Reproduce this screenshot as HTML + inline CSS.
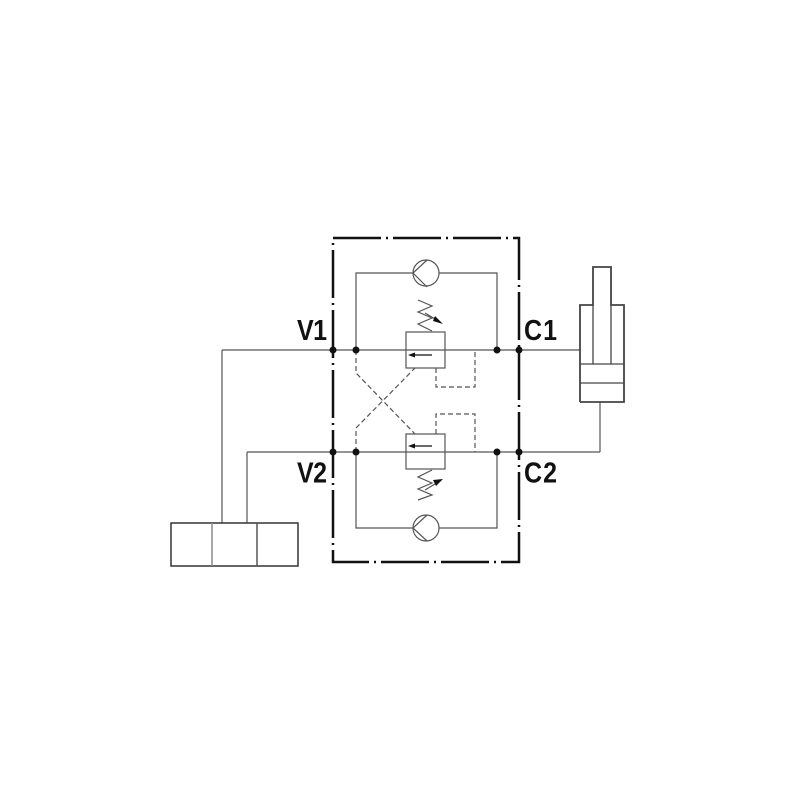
<!DOCTYPE html>
<html><head><style>
body{margin:0;background:#fff}
svg{display:block}
text{font-family:"Liberation Sans",Arial,sans-serif;font-weight:bold;fill:#111}
</style></head><body>
<svg width="800" height="800" viewBox="0 0 800 800" xmlns="http://www.w3.org/2000/svg">
<rect width="800" height="800" fill="#fff"/>
<!-- block boundary dash-dot -->
<rect x="333" y="238" width="186" height="324" fill="none" stroke="#111" stroke-width="2.5" stroke-dasharray="48,5,2,5"/>
<g stroke="#555" stroke-width="1.2" fill="none">
<!-- main lines -->
<line x1="222" y1="350" x2="580" y2="350"/>
<line x1="247" y1="452" x2="600" y2="452"/>
<polyline points="222,350 222,523"/>
<polyline points="247,452 247,523"/>
<polyline points="600,452 600,402"/>
<!-- top loop -->
<polyline points="356,350 356,273 413,273"/>
<polyline points="439,273 497,273 497,350"/>
<circle cx="426" cy="273" r="13"/>
<polyline points="427,260 413,273 427,287"/>
<!-- bottom loop -->
<polyline points="356,452 356,528 413,528"/>
<polyline points="439,528 497,528 497,452"/>
<circle cx="426" cy="528" r="13"/>
<polyline points="427,515 413,528 427,541"/>
<!-- valve boxes -->
<rect x="406" y="332" width="39" height="36" fill="#fff"/>
<line x1="406" y1="350" x2="445" y2="350"/>
<rect x="406" y="434" width="39" height="35" fill="#fff"/>
<line x1="406" y1="452" x2="445" y2="452"/>
<!-- springs -->
<polyline points="432,331 418,324 432,318 418,312 432,306 418,300"/>
<polyline points="432,470 418,477 432,483 418,489 432,495 418,500"/>
<line x1="425" y1="313" x2="440" y2="322"/>
<line x1="425" y1="490" x2="440" y2="481"/>
<!-- dashed pilots -->
<g stroke-dasharray="5,3">
<polyline points="436,368 436,387 475,387 475,350"/>
<polyline points="436,434 436,414 475,414 475,452"/>
<polyline points="356,350 356,373 415,434"/>
<polyline points="356,452 356,428 415,368"/>
</g>
</g>
<!-- arrows in valve -->
<g stroke="#111" stroke-width="1.2">
<line x1="412" y1="355" x2="432" y2="355"/>
<line x1="412" y1="446" x2="432" y2="446"/>
<line x1="434" y1="318" x2="440" y2="322"/>
</g>
<polygon points="408,355 415,352.5 415,357.5" fill="#111"/>
<polygon points="408,446 415,443.5 415,448.5" fill="#111"/>
<polygon points="443,324 435,316 433,321" fill="#111"/>
<polygon points="443,479 433,480 436,486" fill="#111"/>
<!-- dots -->
<g fill="#111">
<circle cx="333" cy="350" r="3.5"/><circle cx="356" cy="350" r="3.5"/>
<circle cx="497" cy="350" r="3.5"/><circle cx="519" cy="350" r="3.5"/>
<circle cx="333" cy="452" r="3.5"/><circle cx="356" cy="452" r="3.5"/>
<circle cx="497" cy="452" r="3.5"/><circle cx="519" cy="452" r="3.5"/>
</g>
<!-- cylinder -->
<g stroke="#444" stroke-width="1.3" fill="none">
<polyline points="580,402 580,305 593,305 593,267 611,267 611,305 624,305 624,402 580,402" stroke-width="1.8"/>
<line x1="593" y1="305" x2="593" y2="364"/>
<line x1="611" y1="305" x2="611" y2="364"/>
<line x1="580" y1="364" x2="624" y2="364"/>
<line x1="580" y1="383" x2="624" y2="383"/>
</g>
<!-- directional valve block -->
<g stroke="#333" stroke-width="1.5" fill="none">
<rect x="171" y="523" width="127" height="43"/>
<line x1="212" y1="523" x2="212" y2="566" stroke="#888"/>
<line x1="257" y1="523" x2="257" y2="566" stroke="#555"/>
</g>
<!-- labels -->
<text x="297" y="340" font-size="25" transform="translate(0,-51) scale(1,1.15)" textLength="30">V1</text>
<text x="524" y="340" font-size="25" transform="translate(0,-51) scale(1,1.15)" textLength="33">C1</text>
<text x="297" y="482" font-size="25" transform="translate(0,-72) scale(1,1.15)" textLength="30">V2</text>
<text x="524" y="482" font-size="25" transform="translate(0,-72) scale(1,1.15)" textLength="33">C2</text>
</svg>
</body></html>
